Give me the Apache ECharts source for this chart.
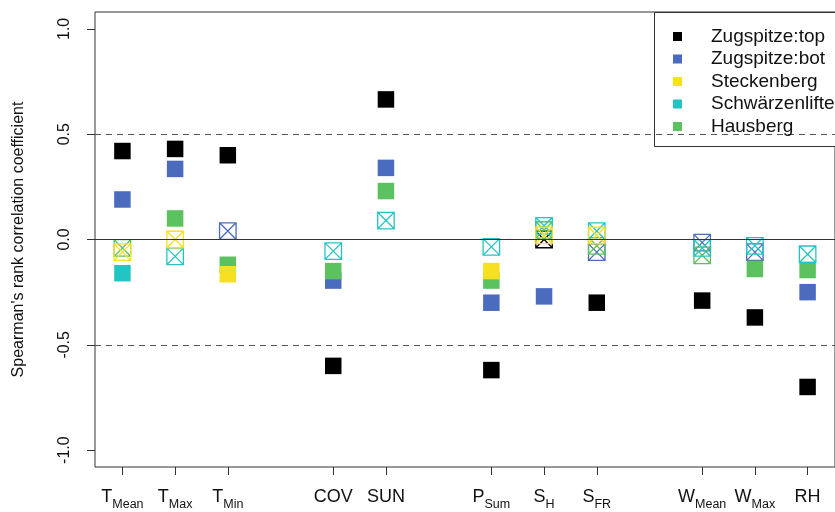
<!DOCTYPE html>
<html><head><meta charset="utf-8">
<script src="https://cdn.jsdelivr.net/npm/echarts@6/dist/echarts.min.js"></script>
<style>html,body{margin:0;padding:0;background:#fff}#c{width:835px;height:512px}</style>
</head><body><div id="c"></div>
<script>
// ---- data ----
var categories = ['TMean','TMax','TMin','COV','SUN','PSum','SH','SFR','WMean','WMax','RH'];
var catPos     = [1, 2, 3, 5, 6, 8, 9, 10, 12, 13, 14];
var labelMain  = ['T','T','T','COV','SUN','P','S','S','W','W','RH'];
var labelSub   = ['Mean','Max','Min','','','Sum','H','FR','Mean','Max',''];
var yTicks     = [-1.0, -0.5, 0.0, 0.5, 1.0];
var refLines   = [-0.5, 0.5];

var stations = ['Zugspitze:top','Zugspitze:bot','Steckenberg','Schwärzenlifte','Hausberg'];
var zugTop     = [0.42, 0.43, 0.40, -0.60, 0.665, -0.62, 0.00, -0.30, -0.29, -0.37, -0.70];
var zugTopSig  = [1, 1, 1, 1, 1, 1, 0, 1, 1, 1, 1];
var zugBot     = [0.19, 0.335, 0.04, -0.195, 0.34, -0.30, -0.27, -0.06, -0.015, -0.06, -0.25];
var zugBotSig  = [1, 1, 0, 1, 1, 1, 1, 0, 0, 0, 1];
var steck      = [-0.06, 0.00, -0.165, null, null, -0.15, 0.02, 0.02, null, null, null];
var steckSig   = [0, 0, 1, 0, 0, 1, 0, 0, 0, 0, 0];
var schw       = [-0.16, -0.08, null, -0.055, 0.09, -0.035, 0.065, 0.04, -0.04, -0.03, -0.07];
var schwSig    = [1, 0, 0, 0, 0, 0, 0, 0, 0, 0, 0];
var haus       = [-0.04, 0.10, -0.12, -0.15, 0.23, -0.195, 0.045, -0.03, -0.075, -0.14, -0.145];
var hausSig    = [0, 1, 1, 1, 1, 1, 0, 0, 0, 1, 1];

var colors = {
  'Zugspitze:top': '#000000',
  'Zugspitze:bot': '#4A6BBE',
  'Steckenberg': '#F7E020',
  'Schwärzenlifte': '#25C4C4',
  'Hausberg': '#5CC25F'
};

var crossPath = 'path://M0,0L10,0L10,10L0,10Z M0,0L10,10 M10,0L0,10';
var FONT = 'Liberation Sans, Arial, Helvetica, sans-serif';

function build(name, vals, sig) {
  var filled = [], crossed = [];
  for (var i = 0; i < vals.length; i++) {
    if (vals[i] === null) continue;
    if (sig[i]) filled.push([catPos[i], vals[i]]);
    else crossed.push([catPos[i], vals[i]]);
  }
  var c = colors[name];
  return [
    { name: name, type: 'scatter', data: crossed, symbol: crossPath, symbolSize: 16.5,
      itemStyle: { color: 'rgba(0,0,0,0)', borderColor: c, borderWidth: 1.3, opacity: 1 }, silent: true, z: 3 },
    { name: name, type: 'scatter', data: filled, symbol: 'rect', symbolSize: 16.5,
      itemStyle: { color: c, opacity: 1 }, silent: true, z: 3 }
  ];
}

// draw order (later on top)
var series = [];
series.push({ type: 'line', data: [], silent: true, z: 1,
  markLine: { silent: true, symbol: 'none', label: { show: false }, animation: false,
    data: [{ yAxis: 0, lineStyle: { type: 'solid', color: '#333', width: 1.2 } }]
      .concat(refLines.map(function (v) { return { yAxis: v, lineStyle: { type: [6, 5], color: '#555', width: 1 } }; })) } });
series = series.concat(build('Zugspitze:top', zugTop, zugTopSig));
series = series.concat(build('Zugspitze:bot', zugBot, zugBotSig));
series = series.concat(build('Hausberg', haus, hausSig));
series = series.concat(build('Schwärzenlifte', schw, schwSig));
series = series.concat(build('Steckenberg', steck, steckSig));

var chart = echarts.init(document.getElementById('c'), null, { renderer: 'canvas' });
chart.setOption({
  animation: false,
  backgroundColor: '#fff',
  textStyle: { fontFamily: FONT },
  grid: { left: 95, top: 12, width: 745, height: 455, show: true, borderColor: '#333', borderWidth: 1, backgroundColor: 'transparent' },
  xAxis: {
    type: 'value', min: 0.48, max: 14.52,
    axisLine: { show: false, onZero: false },
    splitLine: { show: false },
    axisTick: { show: true, length: 8, customValues: catPos, lineStyle: { color: '#333' } },
    axisLabel: {
      customValues: catPos, margin: 18, color: '#111',
      formatter: function (v) {
        var i = catPos.indexOf(Math.round(v));
        if (i < 0) return '';
        return '{m|' + labelMain[i] + '}' + (labelSub[i] ? '{s|' + labelSub[i] + '}' : '');
      },
      rich: {
        m: { fontSize: 18, fontFamily: FONT, color: '#111', verticalAlign: 'bottom', lineHeight: 21 },
        s: { fontSize: 12.5, fontFamily: FONT, color: '#111', verticalAlign: 'bottom', lineHeight: 12, padding: [0, 0, -5, 0] }
      }
    }
  },
  yAxis: {
    type: 'value', min: -1.08, max: 1.08,
    name: "Spearman's rank correlation coefficient",
    nameLocation: 'middle', nameGap: 68, nameRotate: 90,
    nameTextStyle: { fontSize: 16, color: '#111', fontFamily: FONT },
    axisLine: { show: false, onZero: false },
    splitLine: { show: false },
    axisTick: { show: true, length: 8, customValues: yTicks, lineStyle: { color: '#333' } },
    axisLabel: { customValues: yTicks, rotate: 90, margin: 22, fontSize: 16, color: '#111',
      formatter: function (v) { return v.toFixed(1); } }
  },
  legend: {
    orient: 'vertical', left: 668, top: 22, itemWidth: 9, itemHeight: 9, itemGap: 3.5,
    selectedMode: false, z: 10,
    data: stations.map(function (s) { return { name: s, icon: 'rect', itemStyle: { color: colors[s], borderWidth: 0, opacity: 1 } }; }),
    textStyle: { fontSize: 19, color: '#111', fontFamily: FONT, padding: [0, 0, 0, 24] }
  },
  graphic: [{ type: 'rect', shape: { x: 654.5, y: 12.5, width: 190, height: 134 },
    style: { fill: '#fff', stroke: '#333', lineWidth: 1 }, z: 2, silent: true }],
  series: series
});
</script></body></html>
